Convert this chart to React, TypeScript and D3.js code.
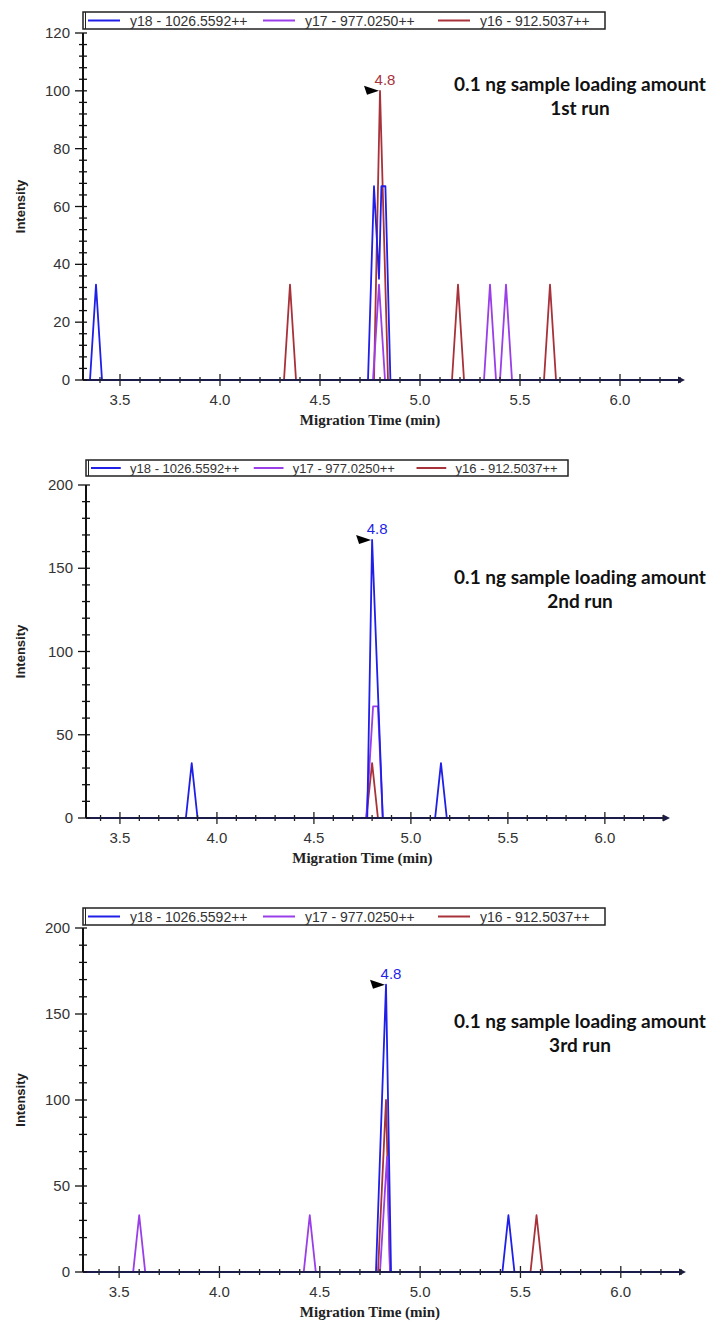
import React from 'react';
import * as d3 from 'd3';

// ---------- data ----------
const seriesNames = ['y18 - 1026.5592++', 'y17 - 977.0250++', 'y16 - 912.5037++'];
const seriesColors = ['#1f1fe8', '#9a3ee8', '#a8323a'];
const xTickLabels = [3.5, 4.0, 4.5, 5.0, 5.5, 6.0];
const runTitles = ['1st run', '2nd run', '3rd run'];
const sampleLabel = '0.1 ng sample loading amount';

// run 1 (time min, intensity)
const run1Blue: [number, number][] = [[3.35, 0], [3.38, 33], [3.41, 0], [4.74, 0], [4.77, 67], [4.795, 35], [4.807, 67], [4.827, 67], [4.852, 0]];
const run1Purple: [number, number][] = [[4.765, 0], [4.795, 33], [4.825, 0], [5.32, 0], [5.35, 33], [5.38, 0], [5.40, 0], [5.43, 33], [5.46, 0]];
const run1Red: [number, number][] = [[4.32, 0], [4.35, 33], [4.38, 0], [4.77, 0], [4.80, 100], [4.84, 0], [5.16, 0], [5.19, 33], [5.22, 0], [5.62, 0], [5.65, 33], [5.68, 0]];
// run 2
const run2Blue: [number, number][] = [[3.84, 0], [3.87, 33], [3.90, 0], [4.775, 0], [4.80, 167], [4.855, 0], [5.125, 0], [5.155, 33], [5.185, 0]];
const run2Purple: [number, number][] = [[4.77, 0], [4.805, 67], [4.83, 67], [4.855, 0]];
const run2Red: [number, number][] = [[4.77, 0], [4.80, 33], [4.83, 0]];
// run 3
const run3Blue: [number, number][] = [[4.78, 0], [4.83, 167], [4.855, 0], [5.41, 0], [5.44, 33], [5.47, 0]];
const run3Purple: [number, number][] = [[3.57, 0], [3.60, 33], [3.63, 0], [4.42, 0], [4.45, 33], [4.48, 0], [4.80, 0], [4.835, 67], [4.85, 0]];
const run3Red: [number, number][] = [[4.79, 0], [4.83, 100], [4.85, 0], [5.55, 0], [5.58, 33], [5.61, 0]];

const peakTimes = [4.80, 4.80, 4.83];
const peakValues = [100, 167, 167];
const peakLabels = ['4.8', '4.8', '4.8'];
const peakSeries = [2, 0, 0];
const yMaxes = [120, 200, 200];
const yMajorSteps = [20, 50, 50];
const yMinorSteps = [4, 10, 10];

const runSeries = [
  [run1Blue, run1Purple, run1Red],
  [run2Blue, run2Purple, run2Red],
  [run3Blue, run3Purple, run3Red],
];

// ---------- layout ----------
const layouts = [
  { left: 83, right: 680, x0: 3.315, x1: 6.30, yTop: 33, yBottom: 380, legend: [83, 12, 605, 29], legendScale: 1, titleY: 85 },
  { left: 86, right: 665, x0: 3.325, x1: 6.31, yTop: 485, yBottom: 818, legend: [86, 460, 568, 476], legendScale: 0.93, titleY: 578 },
  { left: 83, right: 681, x0: 3.32, x1: 6.30, yTop: 928, yBottom: 1272, legend: [83, 908, 605, 925], legendScale: 1, titleY: 1022 },
];

const SANS = 'Liberation Sans, Arial, sans-serif';
const TITLE_FONT = 'Lato, Open Sans, sans-serif';

function Panel({ idx }: { idx: number }) {
  const L = layouts[idx];
  const x = d3.scaleLinear().domain([L.x0, L.x1]).range([L.left, L.right]);
  const y = d3.scaleLinear().domain([0, yMaxes[idx]]).range([L.yBottom, L.yTop]);
  const line = d3.line<[number, number]>().x(d => x(d[0])).y(d => y(d[1]));

  const minorX = d3.range(Math.ceil(L.x0 * 10), Math.floor(L.x1 * 10 + 1e-6) + 1).map(v => v / 10);
  const yTicks = d3.range(0, yMaxes[idx] + 0.001, yMinorSteps[idx]);
  const order = [2, 1, 0];

  const [lx0, ly0, lx1, ly1] = L.legend;
  const s = L.legendScale;
  const legendMid = (ly0 + ly1) / 2;
  const itemX = [0, 175, 350].map(v => lx0 + 5 + v * s);

  const px = x(peakTimes[idx]);
  const py = y(peakValues[idx]);
  const xMidLabel = (x(3.5) + x(6.0)) / 2;

  return (
    <g>
      {/* legend */}
      <rect x={lx0} y={ly0} width={lx1 - lx0} height={ly1 - ly0} fill="#fff" stroke="#222" strokeWidth={1.5} />
      <line x1={lx0 + 2.5} x2={lx0 + 2.5} y1={ly0} y2={ly1} stroke="#222" strokeWidth={1} />
      {seriesNames.map((n, i) => (
        <g key={n}>
          <line x1={itemX[i]} x2={itemX[i] + 32 * s} y1={legendMid} y2={legendMid} stroke={seriesColors[i]} strokeWidth={2} />
          <text x={itemX[i] + 42 * s} y={legendMid + 5} fontFamily={SANS} fontSize={14 * s} fill="#333">{n}</text>
        </g>
      ))}

      {/* series */}
      {order.map(i => {
        const pts = [[L.x0, 0] as [number, number], ...runSeries[idx][i], [L.x1 - 0.01, 0] as [number, number]];
        return <path key={i} d={line(pts) || ''} fill="none" stroke={seriesColors[i]} strokeWidth={1.8} strokeLinejoin="round" />;
      })}

      {/* x axis */}
      <line x1={L.left} x2={L.right} y1={L.yBottom} y2={L.yBottom} stroke="#1c1c4a" strokeWidth={2} />
      <path d={`M${L.right - 2},${L.yBottom - 3.5}L${L.right + 5},${L.yBottom}L${L.right - 2},${L.yBottom + 3.5}Z`} fill="#1c1c4a" />
      {minorX.map(v => {
        const major = Math.abs(v * 2 - Math.round(v * 2)) < 1e-6;
        return <line key={v} x1={x(v)} x2={x(v)} y1={L.yBottom - (major ? 6 : 3)} y2={L.yBottom + (major ? 6 : 3)} stroke="#222" strokeWidth={1.3} />;
      })}
      {xTickLabels.map(v => (
        <text key={v} x={x(v)} y={L.yBottom + 25} textAnchor="middle" fontFamily={SANS} fontSize={15} fill="#333">{v.toFixed(1)}</text>
      ))}
      <text x={xMidLabel} y={L.yBottom + 45} textAnchor="middle" fontFamily="Liberation Serif, Times New Roman, serif" fontWeight="bold" fontSize={15} fill="#222">Migration Time (min)</text>

      {/* y axis */}
      <line x1={L.left} x2={L.left} y1={L.yBottom} y2={L.yTop} stroke="#111" strokeWidth={2} />
      {yTicks.map(v => {
        const major = Math.abs(v % yMajorSteps[idx]) < 1e-6;
        return <line key={v} x1={L.left - (major ? 8 : 4)} x2={L.left + 4} y1={y(v)} y2={y(v)} stroke="#111" strokeWidth={1.3} />;
      })}
      {yTicks.filter(v => Math.abs(v % yMajorSteps[idx]) < 1e-6).map(v => (
        <text key={v} x={L.left - 13} y={y(v) + 5} textAnchor="end" fontFamily={SANS} fontSize={15} fill="#333">{v}</text>
      ))}
      <text transform={`translate(25,${(L.yTop + L.yBottom) / 2}) rotate(-90)`} textAnchor="middle" fontFamily={SANS} fontWeight="bold" fontSize={13} fill="#222">Intensity</text>

      {/* peak marker */}
      <path d={`M${px - 16},${py - 5}L${px - 1},${py}L${px - 13},${py + 4}Z`} fill="#000" />
      <text x={px + 5} y={py - 6} textAnchor="middle" fontFamily={SANS} fontSize={15} fill={seriesColors[peakSeries[idx]]}>{peakLabels[idx]}</text>

      {/* title */}
      <text x={580} y={L.titleY + 6} textAnchor="middle" fontFamily={TITLE_FONT} fontWeight="bold" fontSize={19} fill="#111">{sampleLabel}</text>
      <text x={580} y={L.titleY + 30} textAnchor="middle" fontFamily={TITLE_FONT} fontWeight="bold" fontSize={19} fill="#111">{runTitles[idx]}</text>
    </g>
  );
}

export default function App() {
  return (
    <svg width={715} height={1329} style={{ position: 'absolute', left: 0, top: 0, background: '#fff' }}>
      <rect width={715} height={1329} fill="#fff" />
      {[0, 1, 2].map(i => <Panel key={i} idx={i} />)}
    </svg>
  );
}
